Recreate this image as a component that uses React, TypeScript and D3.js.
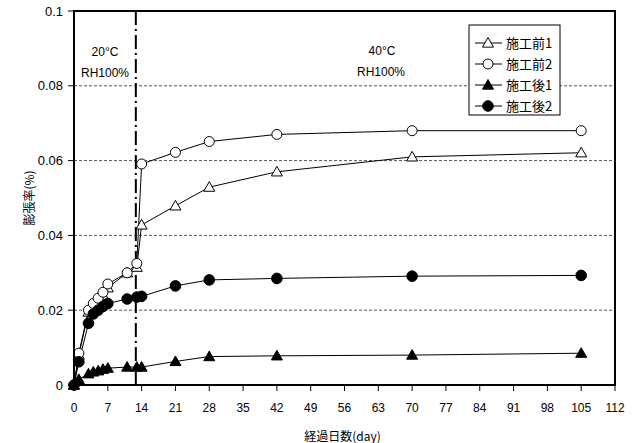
import React from "react";
import * as d3 from "d3";

const days = [0, 1, 3, 4, 5, 6, 7, 11, 13, 14, 21, 28, 42, 70, 105];
const before1 = [0, 0.008, 0.0195, 0.021, 0.0222, 0.024, 0.026, 0.03, 0.0315, 0.0428, 0.0479, 0.0529, 0.057, 0.061, 0.0621];
const before2 = [0, 0.0085, 0.02, 0.0218, 0.0232, 0.0248, 0.027, 0.03, 0.0325, 0.0591, 0.0622, 0.0651, 0.067, 0.068, 0.068];
const after1 = [0, 0.0015, 0.003, 0.0035, 0.0038, 0.0042, 0.0045, 0.0048, 0.0048, 0.0048, 0.0063, 0.0076, 0.0078, 0.008, 0.0085];
const after2 = [0, 0.0062, 0.0165, 0.019, 0.02, 0.021, 0.0218, 0.023, 0.0235, 0.0237, 0.0265, 0.0281, 0.0285, 0.0291, 0.0293];
const seriesNames = ["施工前1", "施工前2", "施工後1", "施工後2"];
const markerTypes = ["triOpen", "circOpen", "triFilled", "circFilled"];
const xTicks = d3.range(0, 113, 7);
const yTicks = [0, 0.02, 0.04, 0.06, 0.08, 0.1];
const gridTicks = [0.02, 0.04, 0.06, 0.08];
const switchDay = 12.8;
const xTitle = "経過日数(day)";
const yTitle = "膨張率(%)";

const W = 642, H = 443;
const L = 74, R = 615, T = 11, B = 385;

function Marker({ type, x, y }: { type: string; x: number; y: number }) {
  if (type === "triOpen" || type === "triFilled") {
    const s = 5.5;
    const p = `M${x},${y - s} L${x + s},${y + s * 0.75} L${x - s},${y + s * 0.75} Z`;
    return <path d={p} fill={type === "triFilled" ? "#000" : "#fff"} stroke="#000" strokeWidth={1} />;
  }
  return (
    <circle cx={x} cy={y} r={type === "circFilled" ? 5.3 : 5} fill={type === "circFilled" ? "#000" : "#fff"} stroke="#000" strokeWidth={1} />
  );
}

export default function App() {
  const x = d3.scaleLinear().domain([0, 112]).range([L, R]);
  const y = d3.scaleLinear().domain([0, 0.1]).range([B, T]);
  const all = [before1, before2, after1, after2];
  const line = d3.line<[number, number]>().x((d) => x(d[0])).y((d) => y(d[1]));
  const font = "'Liberation Sans', Arial, sans-serif";
  const cjk = "'Noto Sans CJK JP', sans-serif";
  const legY = [43, 64, 85, 106];
  return (
    <div style={{ position: "absolute", left: 0, top: 0 }}>
      <svg width={W} height={H} style={{ display: "block", background: "#fff" }}>
        <rect x={0} y={0} width={W} height={H} fill="#fff" />
        {gridTicks.map((t) => (
          <line key={t} x1={L} x2={R} y1={y(t)} y2={y(t)} stroke="#555" strokeWidth={1} strokeDasharray="3,2" />
        ))}
        <line x1={x(switchDay)} x2={x(switchDay)} y1={T} y2={B} stroke="#000" strokeWidth={2} strokeDasharray="14,4,2,4" />
        {all.map((s, i) => (
          <path key={i} d={line(days.map((d, j) => [d, s[j]]) as [number, number][]) || ""} fill="none" stroke="#000" strokeWidth={1} />
        ))}
        {all.map((s, i) =>
          days.map((d, j) => <Marker key={i + "-" + j} type={markerTypes[i]} x={x(d)} y={y(s[j])} />)
        )}
        <rect x={L} y={T} width={R - L} height={B - T} fill="none" stroke="#000" strokeWidth={2} />
        {yTicks.map((t) => (
          <g key={t}>
            <line x1={L - 6} x2={L} y1={y(t)} y2={y(t)} stroke="#000" strokeWidth={1} />
            <text x={L - 11} y={y(t)} dy="0.35em" textAnchor="end" fontSize={13} fontFamily={font}>
              {String(t)}
            </text>
          </g>
        ))}
        {xTicks.map((t) => (
          <g key={t}>
            <line x1={x(t)} x2={x(t)} y1={B} y2={B + 6} stroke="#000" strokeWidth={1} />
            <text x={x(t)} y={B + 23} dy="0.35em" textAnchor="middle" fontSize={12} fontFamily={font}>
              {t}
            </text>
          </g>
        ))}
        <text x={(L + R) / 2 - 2} y={437} dy="0.35em" textAnchor="middle" fontSize={12} fontFamily={cjk}>
          {xTitle}
        </text>
        <text transform={`translate(30,${(T + B) / 2}) rotate(-90)`} textAnchor="middle" dy="0.35em" fontSize={12} fontFamily={cjk}>
          {yTitle}
        </text>
        <text x={105} y={56} textAnchor="middle" fontSize={12} fontFamily={font}>20°C</text>
        <text x={105} y={77} textAnchor="middle" fontSize={12} fontFamily={font}>RH100%</text>
        <text x={382} y={55} textAnchor="middle" fontSize={12} fontFamily={font}>40°C</text>
        <text x={381} y={76} textAnchor="middle" fontSize={12} fontFamily={font}>RH100%</text>
        <rect x={469} y={25} width={91} height={90} fill="#fff" stroke="#000" strokeWidth={1} />
        {seriesNames.map((n, i) => (
          <g key={n}>
            <line x1={475} x2={502} y1={legY[i]} y2={legY[i]} stroke="#000" strokeWidth={1} />
            <Marker type={markerTypes[i]} x={488} y={legY[i]} />
            <text x={506} y={legY[i]} dy="0.35em" fontSize={13} fontFamily={cjk}>{n}</text>
          </g>
        ))}
      </svg>
    </div>
  );
}
